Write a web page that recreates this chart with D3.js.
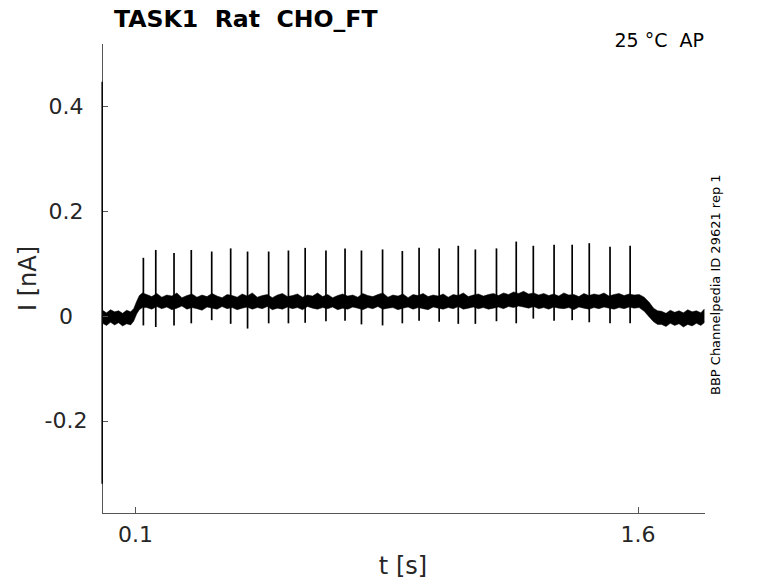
<html>
<head>
	<meta charset="utf-8">
	<title>TASK1 Rat CHO_FT</title>
	<style>
		body { margin:0; background:#fff; }
		text { font-family: "DejaVu Sans", sans-serif; white-space: pre; }
		.axis path, .axis line { stroke:#555; stroke-width:1; shape-rendering:crispEdges; }
		.axis text { fill:#262626; font-size:22px; font-family:"DejaVu Sans", sans-serif; }
	</style>
	<script src="https://d3js.org/d3.v7.min.js" charset="utf-8"></script>
</head>
<body>
	<script type="text/javascript">

		/************** data **************************************/
		// stimulus artefact at t ~ 0
		var artTime = [0.002];
		var artHigh = [0.447];
		var artLow = [-0.32];

		// noise band of the trace (upper / lower edge), nA
		var envTime = [0.003,0.015,0.027,0.039,0.051,0.063,0.075,0.087,
			0.096,0.105,0.113,0.122,
			0.135,0.150,0.165,0.180,0.195,0.210,0.225,0.240,0.255,0.270,
			0.285,0.300,0.315,0.330,0.345,0.360,0.375,0.390,0.405,0.420,
			0.435,0.450,0.465,0.480,0.495,0.510,0.525,0.540,0.555,0.570,
			0.585,0.600,0.615,0.630,0.645,0.660,0.675,0.690,0.705,0.720,
			0.735,0.750,0.765,0.780,0.795,0.810,0.825,0.840,0.855,0.870,
			0.885,0.900,0.915,0.930,0.945,0.960,0.975,0.990,1.005,1.020,
			1.035,1.050,1.065,1.080,1.095,1.110,1.125,1.140,1.155,1.170,
			1.185,1.200,1.215,1.230,1.245,1.260,1.275,1.290,1.305,1.320,
			1.335,1.350,1.365,1.380,1.395,1.410,1.425,1.440,1.455,1.470,
			1.485,1.500,1.515,1.530,1.545,1.560,1.575,1.590,1.605,
			1.62,1.635,1.648,1.66,
			1.672,1.685,1.698,1.711,1.724,1.737,1.750,1.763,1.776,1.789,1.799];
		var envUpper = [0.011,0.006,0.012,0.008,0.010,0.005,0.011,0.008,
			0.014,0.028,0.039,0.044,
			0.041,0.037,0.043,0.036,0.040,0.038,0.044,0.035,0.039,0.042,
			0.036,0.040,0.037,0.043,0.038,0.035,0.041,0.039,0.036,0.042,
			0.038,0.044,0.036,0.039,0.041,0.035,0.040,0.043,0.037,0.039,
			0.042,0.036,0.040,0.038,0.044,0.037,0.041,0.035,0.039,0.042,
			0.038,0.040,0.036,0.043,0.039,0.037,0.041,0.044,0.036,0.040,
			0.038,0.042,0.035,0.041,0.039,0.043,0.037,0.040,0.038,0.042,
			0.036,0.041,0.039,0.044,0.037,0.040,0.042,0.038,0.041,0.043,
			0.039,0.044,0.041,0.046,0.043,0.047,0.042,0.044,0.040,0.043,
			0.039,0.042,0.038,0.044,0.040,0.041,0.037,0.043,0.039,0.042,
			0.040,0.044,0.038,0.041,0.043,0.039,0.042,0.040,0.041,
			0.036,0.026,0.015,0.010,
			0.009,0.005,0.011,0.007,0.010,0.006,0.012,0.008,0.010,0.006,0.013];
		var envLower = [-0.014,-0.018,-0.012,-0.017,-0.013,-0.019,-0.015,-0.017,
			-0.010,0.004,0.012,0.016,
			0.016,0.013,0.018,0.014,0.017,0.012,0.015,0.019,0.013,0.016,
			0.014,0.011,0.017,0.015,0.013,0.018,0.014,0.016,0.012,0.015,
			0.017,0.013,0.016,0.014,0.018,0.012,0.015,0.013,0.017,0.014,
			0.016,0.012,0.018,0.015,0.013,0.016,0.014,0.017,0.012,0.015,
			0.013,0.017,0.015,0.012,0.016,0.014,0.018,0.013,0.015,0.016,
			0.012,0.015,0.017,0.013,0.016,0.014,0.012,0.017,0.015,0.013,
			0.016,0.014,0.018,0.013,0.015,0.017,0.014,0.016,0.013,0.015,
			0.017,0.014,0.018,0.016,0.019,0.017,0.015,0.018,0.014,0.016,
			0.013,0.017,0.015,0.014,0.016,0.012,0.017,0.015,0.013,0.016,
			0.014,0.017,0.015,0.013,0.016,0.014,0.017,0.015,0.016,
			0.009,-0.002,-0.011,-0.016,
			-0.016,-0.020,-0.014,-0.018,-0.015,-0.021,-0.016,-0.019,-0.014,-0.018,-0.013];

		// action-potential currents: time, peak, trough
		var spikeTimes = [0.125,0.162,0.2165,0.268,0.329,0.3856,0.436,0.499,0.558,0.608,0.670,0.727,0.776,0.839,
			0.898,0.948,1.008,1.065,1.116,1.179,1.238,1.289,1.351,1.405,1.456,1.518,1.578];
		var spikePeaks = [0.111,0.126,0.120,0.126,0.123,0.129,0.123,0.123,0.125,0.130,0.125,0.129,0.125,0.127,
			0.124,0.130,0.129,0.134,0.127,0.129,0.142,0.134,0.136,0.136,0.139,0.132,0.134];
		var spikeTroughs = [-0.018,-0.021,-0.018,-0.014,-0.008,-0.015,-0.024,-0.014,-0.014,-0.013,-0.010,-0.009,-0.016,-0.018,
			-0.014,-0.009,-0.011,-0.015,-0.015,-0.010,-0.014,-0.005,-0.009,-0.008,-0.012,-0.014,-0.014];

		var xTicks = [0.1, 1.6];
		var yTicks = [-0.2, 0, 0.2, 0.4];
		var xDomain = [0, 1.8];
		var yDomain = [-0.375, 0.52];

		/************** layout *****************/
		var width = 778, height = 583;
		var plot = {left:101.5, right:704.5, top:43.5, bottom:512.5};

		var svg = d3.select("body").append("svg")
			.attr("width", width)
			.attr("height", height);

		var x = d3.scaleLinear().domain(xDomain).range([plot.left, plot.right]);
		var y = d3.scaleLinear().domain(yDomain).range([plot.bottom, plot.top]);

		// trace noise band
		var band = d3.area()
			.x(function(d){ return x(d[0]); })
			.y0(function(d){ return y(d[2]); })
			.y1(function(d){ return y(d[1]); });
		var envData = envTime.map(function(t, i){ return [t, envUpper[i], envLower[i]]; });
		svg.append("path")
			.datum(envData)
			.attr("d", band)
			.attr("fill", "#000")
			.attr("stroke", "#000")
			.attr("stroke-width", 0.5);

		// spikes
		svg.selectAll(".spike")
			.data(spikeTimes)
			.enter()
			.append("line")
			.attr("class", "spike")
			.attr("x1", function(d){ return x(d); })
			.attr("x2", function(d){ return x(d); })
			.attr("y1", function(d, i){ return y(spikePeaks[i]); })
			.attr("y2", function(d, i){ return y(spikeTroughs[i]); })
			.attr("stroke", "#000")
			.attr("stroke-width", 1.7);

		// axes
		var xAxis = d3.axisBottom(x)
			.tickValues(xTicks)
			.tickFormat(d3.format(""))
			.tickSizeInner(-6)
			.tickSizeOuter(0)
			.tickPadding(14);
		svg.append("g")
			.attr("class", "axis")
			.attr("transform", "translate(0," + plot.bottom + ")")
			.call(xAxis);

		var yAxis = d3.axisLeft(y)
			.tickValues(yTicks)
			.tickFormat(function(d){ return d === 0 ? "0" : String(d); })
			.tickSizeInner(-6)
			.tickSizeOuter(0)
			.tickPadding(14);
		var gy = svg.append("g")
			.attr("class", "axis")
			.attr("transform", "translate(" + plot.left + ",0)")
			.call(yAxis);
		gy.selectAll("text")
			.attr("text-anchor", "middle")
			.attr("x", -35.5);

		// stimulus artefact, drawn over the axis line
		svg.selectAll(".artefact")
			.data(artTime)
			.enter()
			.append("line")
			.attr("class", "artefact")
			.attr("x1", function(d){ return x(d); })
			.attr("x2", function(d){ return x(d); })
			.attr("y1", function(d, i){ return y(artHigh[i]); })
			.attr("y2", function(d, i){ return y(artLow[i]); })
			.attr("stroke", "#000")
			.attr("stroke-width", 1.5);

		// labels
		svg.append("text")
			.attr("x", 114).attr("y", 27)
			.attr("font-size", "23.6px")
			.attr("font-weight", "bold")
			.attr("fill", "#000")
			.text("TASK1  Rat  CHO_FT");

		svg.append("text")
			.attr("x", 704).attr("y", 47)
			.attr("text-anchor", "end")
			.attr("font-size", "19px")
			.attr("fill", "#000")
			.text("25 °C  AP");

		svg.append("text")
			.attr("x", (plot.left + plot.right) / 2).attr("y", 574)
			.attr("text-anchor", "middle")
			.attr("font-size", "24px")
			.attr("fill", "#262626")
			.text("t [s]");

		svg.append("text")
			.attr("transform", "translate(36,278.5) rotate(-90)")
			.attr("text-anchor", "middle")
			.attr("font-size", "24px")
			.attr("fill", "#262626")
			.text("I [nA]");

		svg.append("text")
			.attr("transform", "translate(720,395) rotate(-90)")
			.attr("font-size", "13px")
			.attr("fill", "#000")
			.text("BBP Channelpedia ID 29621 rep 1");

	</script>
</body>
</html>
